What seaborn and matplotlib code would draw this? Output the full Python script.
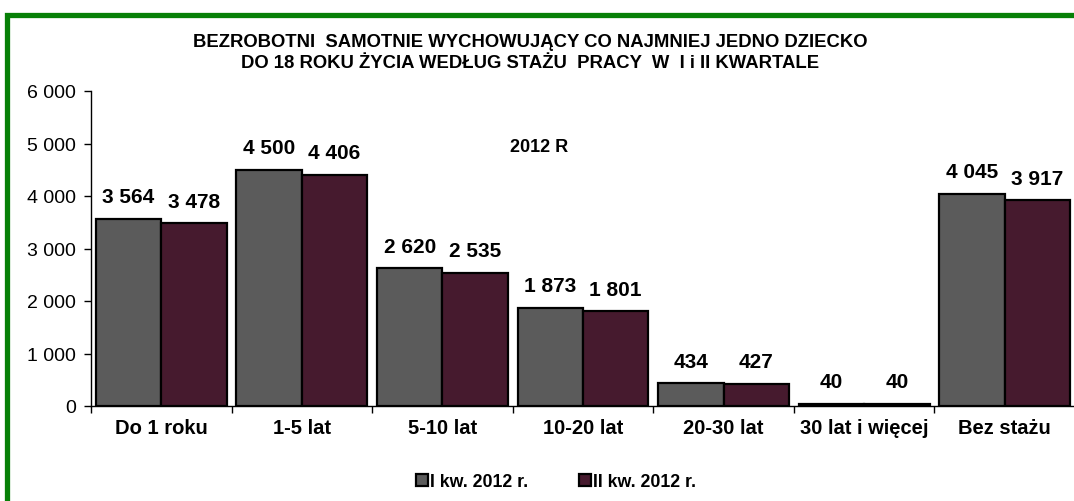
import pandas as pd
import matplotlib.pyplot as plt
import seaborn as sns
from matplotlib.patches import Rectangle
from matplotlib.ticker import FuncFormatter, FixedLocator

categories = ["Do 1 roku", "1-5 lat", "5-10 lat", "10-20 lat", "20-30 lat", "30 lat i więcej", "Bez stażu"]
q1_values = [3564, 4500, 2620, 1873, 434, 40, 4045]
q2_values = [3478, 4406, 2535, 1801, 427, 40, 3917]
series_names = ["I kw. 2012 r.", "II kw. 2012 r."]
colors = ["#5b5b5b", "#461a2e"]

df = pd.DataFrame({
    "staz": categories * 2,
    "kwartal": [series_names[0]] * len(categories) + [series_names[1]] * len(categories),
    "liczba": q1_values + q2_values,
})

sns.set_style("white")
plt.rcParams["font.family"] = ["Liberation Sans", "DejaVu Sans"]
plt.rcParams["text.color"] = "black"
plt.rcParams["xtick.color"] = "black"
plt.rcParams["ytick.color"] = "black"

def fmt(v):
    return f"{int(v):,}".replace(",", " ")

fig = plt.figure(figsize=(10.74, 5.02), dpi=100)
ax = fig.add_axes([91 / 1074, 1 - 407 / 502, (1075 - 91) / 1074, (407 - 92) / 502])

sns.barplot(data=df, x="staz", y="liczba", hue="kwartal", palette=colors,
            width=0.93, edgecolor="black", linewidth=1.6, saturation=1, ax=ax)

for container in ax.containers:
    labels = [fmt(v) for v in container.datavalues]
    ax.bar_label(container, labels=labels, padding=9, fontsize=15, fontweight="bold",
                 color="black")

ax.set_ylim(0, 6000)
ax.set_xlim(-0.5, len(categories) - 0.5)
ax.set_yticks(range(0, 6001, 1000))
ax.yaxis.set_major_formatter(FuncFormatter(lambda v, p: fmt(v)))
ax.set_xlabel("")
ax.set_ylabel("")

ax.tick_params(axis="y", direction="out", length=5, width=1, labelsize=14, pad=6, left=True)
ax.tick_params(axis="x", which="major", length=0, labelsize=14.5, pad=9)
ax.xaxis.set_minor_locator(FixedLocator([i - 0.5 for i in range(len(categories) + 1)]))
ax.tick_params(axis="x", which="minor", direction="out", length=5, width=1, bottom=True)
for lbl in ax.get_xticklabels():
    lbl.set_fontweight("bold")

for side in ["top", "right"]:
    ax.spines[side].set_visible(False)
for side in ["left", "bottom"]:
    ax.spines[side].set_color("black")
    ax.spines[side].set_linewidth(1)

ax.text(0.455, 0.825, "2012 R", transform=ax.transAxes, fontsize=13,
        fontweight="bold", ha="center", va="center")

handles, labels = ax.get_legend_handles_labels()
ax.get_legend().remove()
fig.legend(handles, labels, loc="center", bbox_to_anchor=(556 / 1074, 1 - 483 / 502),
           ncol=2, frameon=False, handlelength=0.65, handleheight=0.65,
           handletextpad=0.1, columnspacing=2.9,
           prop={"weight": "bold", "size": 12.8})

fig.text(530 / 1074, 1 - 53 / 502,
         "BEZROBOTNI  SAMOTNIE WYCHOWUJĄCY CO NAJMNIEJ JEDNO DZIECKO\n"
         "DO 18 ROKU ŻYCIA WEDŁUG STAŻU  PRACY  W  I i II KWARTALE",
         ha="center", va="center", fontsize=13.3, fontweight="bold", linespacing=1.3)

border = Rectangle((7 / 1074, -0.2), 1.2, 1.2 - 15.5 / 502, transform=fig.transFigure,
                   fill=False, edgecolor="#078007", linewidth=3.8, clip_on=False)
fig.patches.append(border)

fig.savefig("out.png", dpi=100)
